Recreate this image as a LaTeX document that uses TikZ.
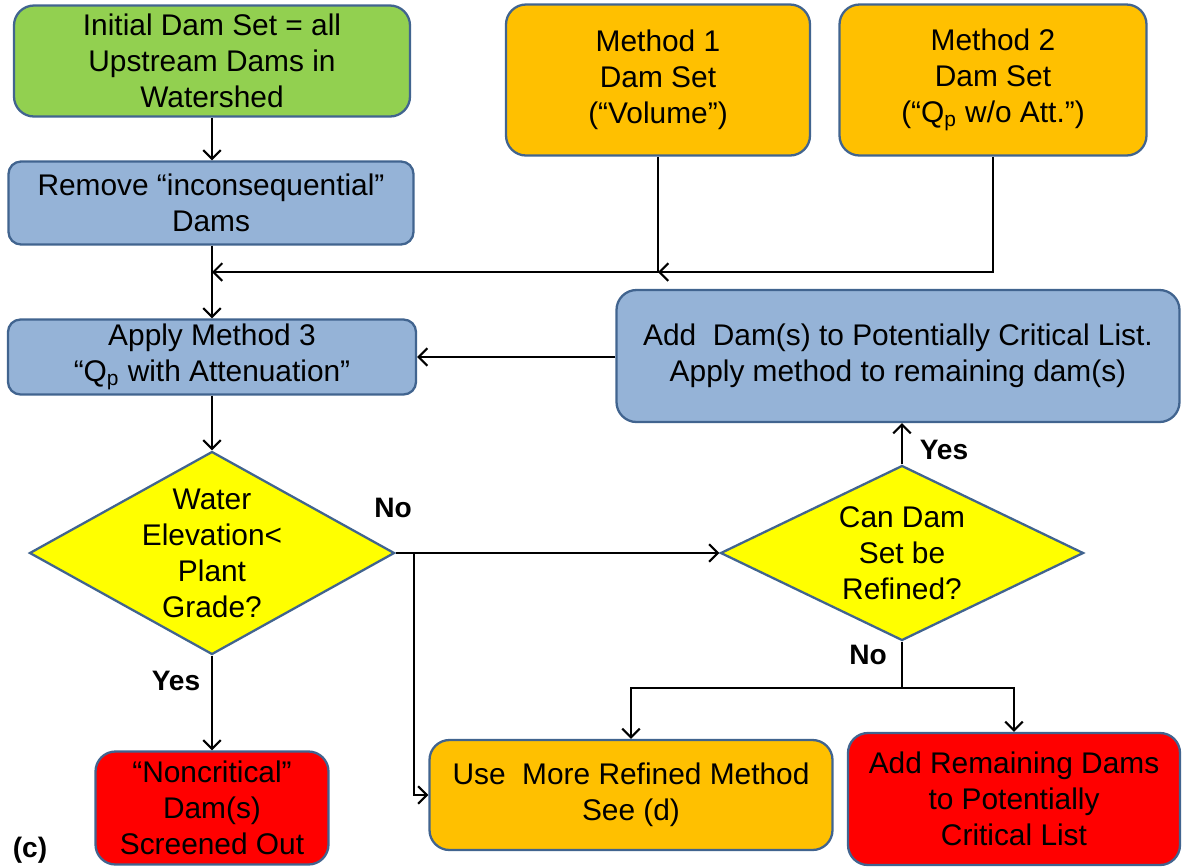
\documentclass[tikz,border=0pt]{standalone}
\usepackage{fontspec}
\setmainfont{Liberation Sans}
\usetikzlibrary{shapes.geometric, arrows.meta, calc}

\definecolor{initGreen}{HTML}{92D050}
\definecolor{stepBlue}{HTML}{95B3D7}
\definecolor{setOrange}{HTML}{FFC000}
\definecolor{endRed}{HTML}{FF0000}
\definecolor{askYellow}{HTML}{FFFF00}
\definecolor{rimBlue}{HTML}{41648F}

\begin{document}
\begin{tikzpicture}[
    x=0.02cm, y=-0.02cm,
    line width=1.2pt,
    every node/.style={font=\fontsize{17}{20.5}\selectfont},
    dims/.style 2 args={minimum width=#1*\pxu, minimum height=#2*\pxu},
    box/.style={rectangle, rounded corners=0.4cm, draw=rimBlue, line width=1.3pt,
                align=center, inner sep=0pt},
    smallbox/.style={box, rounded corners=0.25cm},
    decision/.style={diamond, draw=rimBlue, fill=askYellow, line width=1.3pt, inner sep=0pt},
    flow/.style={-{Straight Barb[length=5pt, width=10pt, line width=1.2pt]}},
    tag/.style={font=\fontsize{16}{19}\selectfont\bfseries}
    ]

    \def\pxu{0.02cm}

    % Determines the boundries
    \path [use as bounding box] (0,0) rectangle (1183,867);

    % Starting sets
    \node[box, fill=initGreen, dims={396}{111}] (init) at (212,61)
        {Initial Dam Set = all\\Upstream Dams in\\Watershed};
    \node[smallbox, fill=stepBlue, dims={405}{83}] (remove) at (211,203)
        {Remove “inconsequential”\\Dams};
    \node[box, fill=setOrange, dims={304}{151}] (setA) at (658,80)
        {Method 1\\Dam Set\\(“Volume”)};
    \node[box, fill=setOrange, dims={307}{151}] (setB) at (993,80)
        {Method 2\\Dam Set\\(“Q\textsubscript{p} w/o Att.”)};

    % Screening steps
    \node[smallbox, fill=stepBlue, dims={408}{75}] (apply) at (212,357)
        {Apply Method 3\\“Q\textsubscript{p} with Attenuation”};
    \node[box, fill=stepBlue, dims={563}{132}] (addDam) at (898,356)
        {Add~ Dam(s) to Potentially Critical List.\\Apply method to remaining dam(s)};

    % Decisions
    \node[decision, dims={365}{203}] (water) at (212,553) {};
    \node[align=center, inner sep=0pt] (waterTxt) at (water) {Water\\Elevation<\\Plant\\Grade?};
    \node[decision, dims={363}{175}] (refine) at (902,553) {};
    \node[align=center, inner sep=0pt] (refineTxt) at (refine) {Can Dam\\Set be\\Refined?};

    % Outcomes
    \node[box, fill=endRed, dims={233}{113}] (noncrit) at (212,808)
        {“Noncritical”\\Dam(s)\\Screened Out};
    \node[box, fill=setOrange, dims={403}{110}] (useMore) at (631,795)
        {Use~ More Refined Method\\See (d)};
    \node[box, fill=endRed, dims={332}{132}] (remain) at (1014,799)
        {Add Remaining Dams\\to Potentially\\Critical List};

    % Outlining the connections
    \coordinate (busY) at (0,272);
    \draw[flow] (init.south) -- (init.south |- remove.north);
    \draw[flow] (setB.south) |- (setA.south |- busY);
    \draw[flow] (setA.south) |- (apply.north |- busY);
    \draw[flow] (apply.north |- remove.south) -- (apply.north);
    \draw[flow] (addDam.west |- apply.east) -- (apply.east);
    \draw[flow] (apply.south) -- (water.north);
    \draw[flow] (water.south) -- (noncrit.north);
    \draw[flow] (water.east) -- (refine.west);

    \coordinate (split) at ($(water.east)+(18,0)$);
    \draw[flow] (split) |- (useMore.west);

    \draw[flow] (refine.north) -- (refine.north |- addDam.south);
    \coordinate (fork) at (refine.south |- 0,688);
    \draw[flow] (refine.south) -- (fork) -| (useMore.north);
    \draw[flow] (fork) -| (remain.north);

    % Branch markings
    \node[tag] (noA)  at (393,508) {No};
    \node[tag] (yesA) at (176,681) {Yes};
    \node[tag] (yesB) at (944,450) {Yes};
    \node[tag] (noB)  at (868,655) {No};
    \node[tag] (panel) at (30,850) {(c)};

\end{tikzpicture}
\end{document}
